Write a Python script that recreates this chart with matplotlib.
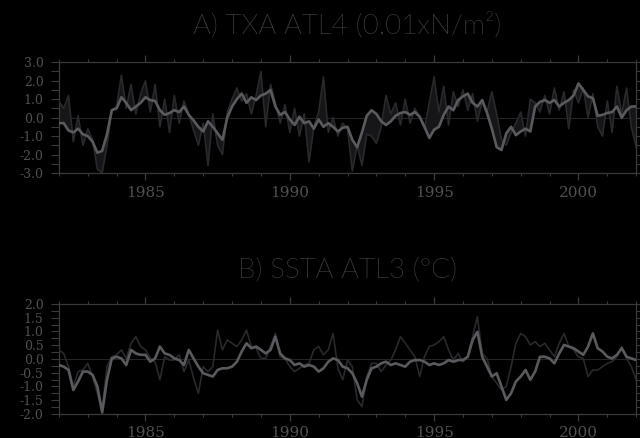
"""Atlantic wind-stress and SST anomaly indices, 1982-2002 (two stacked panels)."""
import matplotlib
matplotlib.use("Agg")
import matplotlib.pyplot as plt
import numpy as np
from matplotlib import font_manager
from matplotlib.ticker import MultipleLocator

# bimonthly samples, 1982.0 .. 2001.83 plus the closing point at 2002.0
YEARS = np.arange(1982, 2002)

# A) TXA ATL4 (0.01 x N/m^2): smooth (light) and raw (dark) series
txa_smooth = [
    -0.3, -0.3, -0.7, -0.8, -0.6, -0.9,
    -1.0, -1.3, -1.9, -1.8, -0.9, 0.4,
    0.5, 1.1, 0.8, 0.4, 0.6, 0.8,
    1.1, 0.95, 0.9, 0.4, 0.15, 0.25,
    0.4, 0.3, 0.6, 0.15, -0.15, -0.5,
    -0.75, -0.2, -0.5, -0.85, -1.2, 0.0,
    0.6, 1.0, 1.3, 0.8, 1.1, 0.95,
    1.2, 1.3, 1.5, 0.6, 0.15, 0.3,
    -0.1, -0.4, 0.05, -0.3, -0.2, -0.6,
    -0.1, -0.5, -0.3, -0.5, -0.75, -0.55,
    -0.5, -1.2, -1.6, -0.8, 0.1, 0.4,
    0.2, -0.2, -0.4, -0.2, 0.1, 0.25,
    0.3, 0.15, 0.3, 0.05, -0.5, -1.1,
    -0.65, -0.5, 0.15, 0.6, 0.4, 0.95,
    1.15, 1.3, 0.8, 0.6, 0.95, 0.25,
    -0.6, -1.6, -1.75, -0.85, -0.5, -0.95,
    -0.75, -0.6, -0.75, 0.6, 0.85, 0.95,
    0.8, 0.95, 0.6, 0.8, 0.95, 1.2,
    1.85, 1.5, 1.15, 1.05, 0.1, 0.15,
    0.25, 0.3, 0.6, 0.0, 0.4, 0.6,
    0.6,
]
txa_raw = [
    0.9, 0.5, 1.2, -1.3, 0.1, -1.5,
    -0.6, -1.2, -2.8, -3.0, -1.5, 0.4,
    0.6, 2.3, 0.5, 1.8, 0.2, 1.3,
    2.0, 0.3, 1.8, -0.5, 1.0, -0.8,
    1.2, -0.3, 0.9, 0.2, -0.7, -1.5,
    -0.3, -2.6, 0.2, -1.5, -2.0, 0.3,
    1.0, 1.6, 0.9, 1.3, 0.2, 1.2,
    2.5, -0.5, 1.8, 0.8, -0.3, 0.7,
    -0.8, 0.5, -1.0, 0.2, -2.4, -0.5,
    0.3, 2.2, -0.8, 0.0, -1.0, -0.3,
    -0.6, -2.9, -1.5, -2.6, -0.9, -1.0,
    -1.4, -0.5, 1.2, 0.2, 0.8, -0.4,
    1.0, -0.3, 0.5, 0.0, -0.6, 0.8,
    2.2, 0.3, 1.7, -0.4, 1.4, 0.6,
    1.5, 0.4, 1.3, -0.2, 0.9, 0.3,
    1.4, 0.2, -1.2, -1.5, -0.8, -0.3,
    0.3, -1.0, 1.0, 0.8, 0.3, 1.2,
    0.2, 1.6, 0.4, 1.4, -0.6, 1.5,
    0.8, 1.6, 0.0, 1.3, -0.5, -1.0,
    0.9, -0.8, 1.7, 0.2, 1.6, -0.5,
    -1.6,
]

# B) SSTA ATL3 (deg C)
ssta_smooth = [
    -0.22, -0.28, -0.4, -1.13, -0.82, -0.46,
    -0.46, -0.58, -1.0, -1.95, -0.76, 0.02,
    0.08, 0.02, -0.22, 0.33, 0.2, 0.15,
    0.15, -0.1, 0.02, 0.45, 0.2, 0.15,
    0.02, -0.04, -0.22, 0.33, 0.02, -0.28,
    -0.52, -0.58, -0.64, -0.4, -0.34, -0.34,
    -0.28, -0.1, 0.27, 0.57, 0.39, 0.45,
    0.33, 0.2, 0.33, 0.81, 0.2, 0.02,
    -0.04, -0.22, -0.16, -0.28, -0.22, -0.28,
    -0.46, -0.34, -0.1, 0.02, -0.04, -0.28,
    -0.34, -0.52, -0.88, -1.37, -0.76, -0.34,
    -0.28, -0.16, -0.1, -0.22, -0.16, -0.22,
    -0.28, -0.1, -0.04, -0.04, -0.1, -0.22,
    -0.16, -0.22, -0.16, -0.04, -0.1, -0.04,
    -0.04, 0.08, 0.69, 0.99, 0.08, -0.28,
    -0.64, -0.52, -1.0, -1.49, -1.25, -0.82,
    -0.64, -0.4, -0.76, -0.46, 0.08, 0.08,
    0.02, -0.16, 0.2, 0.51, 0.45, 0.39,
    0.27, 0.15, 0.45, 0.93, 0.39, 0.27,
    0.08, 0.02, 0.15, 0.39, 0.08, 0.02,
    -0.04,
]
ssta_raw = [
    0.33, 0.2, -0.28, -1.0, -0.46, -0.4,
    -0.16, -0.64, -1.25, -1.85, -0.28, 0.08,
    0.15, 0.33, 0.02, 0.57, 0.81, 0.45,
    0.33, 0.02, -0.1, -0.76, 0.08, -0.04,
    -0.04, 0.15, -0.46, -0.04, -0.7, -1.25,
    -0.28, -0.46, -0.28, 1.05, 0.33, 0.69,
    0.57, 0.45, 0.69, 1.05, 0.45, 0.39,
    0.02, 0.02, 0.45, 0.93, 0.08, 0.02,
    -0.28, -0.46, -0.34, -0.22, -0.16, 0.33,
    0.45, 0.15, 0.33, 0.93, -0.34, -0.76,
    -0.04, -0.28, -1.49, -1.73, -0.64, -0.16,
    -0.16, -0.46, -0.22, -0.04, 0.33, 0.81,
    0.57, 0.33, 0.08, -0.64, 0.08, 0.45,
    0.51, 0.63, 0.81, 0.33, -0.04, 0.2,
    -0.1, 0.08, 0.81, 1.54, 0.2, 0.02,
    -0.64, -0.88, -1.13, -1.0, -0.28, 0.57,
    0.93, 0.81, 0.51, 0.63, 0.45, 0.57,
    0.33, 0.08, 0.57, 0.93, 0.45, 0.33,
    0.08, 0.02, -0.64, -0.4, -0.4, -0.28,
    -0.16, -0.1, 0.08, 0.45, 0.02, -0.28,
    -0.76,
]

t = np.arange(len(txa_smooth)) / 6.0 + YEARS[0]

BG = "black"
FRAME = "#3a3a3a"
LABEL = "#505050"
LIGHT = "#5a5a5e"
DARK = "#2a282c"


def thin_font():
    # prefer a light-weight sans for the panel titles
    for name in ["Lato", "Roboto", "Open Sans", "Inter", "Noto Sans", "DejaVu Sans"]:
        for f in font_manager.fontManager.ttflist:
            if f.name == name and f.style == "normal" and isinstance(f.weight, int) and f.weight <= 300:
                return font_manager.FontProperties(fname=f.fname)
    return font_manager.FontProperties(family="DejaVu Sans")


fig = plt.figure(figsize=(6.4, 4.38), dpi=100, facecolor=BG)
ax_a = fig.add_axes([0.092, 0.605, 0.902, 0.253])
ax_b = fig.add_axes([0.092, 0.055, 0.902, 0.251])


def style(ax, ylim, ymaj, ymin):
    ax.set_facecolor(BG)
    ax.set_xlim(1982, 2002)
    ax.set_ylim(*ylim)
    for s in ax.spines.values():
        s.set_color(FRAME)
        s.set_linewidth(0.9)
    ax.axhline(0, color="#242424", lw=0.8, zorder=1)
    ax.xaxis.set_major_locator(MultipleLocator(5))
    ax.xaxis.set_minor_locator(MultipleLocator(1))
    ax.yaxis.set_major_locator(MultipleLocator(ymaj))
    ax.yaxis.set_minor_locator(MultipleLocator(ymin))
    ax.tick_params(axis="x", which="both", direction="out", top=True, color=FRAME,
                   labelcolor=LABEL, labelsize=11, pad=4)
    ax.tick_params(axis="x", which="major", length=5, width=0.9)
    ax.tick_params(axis="x", which="minor", length=2.5, width=0.8)
    ax.tick_params(axis="y", which="both", direction="out", right=True, color=FRAME,
                   labelcolor=LABEL, labelsize=9, length=6, width=0.8, pad=5)
    ax.yaxis.set_major_formatter(matplotlib.ticker.FuncFormatter(lambda v, p: f"{v:.1f}"))
    for lab in ax.get_xticklabels() + ax.get_yticklabels():
        lab.set_family("DejaVu Serif")


style(ax_a, (-3, 3), 1.0, 0.5)
ax_a.fill_between(t, txa_raw, txa_smooth, color="#161518", lw=0, zorder=2)
ax_a.plot(t, txa_raw, color=DARK, lw=1.2, zorder=3)
ax_a.plot(t, txa_smooth, color=LIGHT, lw=1.9, zorder=4)

style(ax_b, (-2, 2), 0.5, 0.25)
ax_b.plot(t, ssta_raw, color=DARK, lw=1.2, zorder=3)
ax_b.plot(t, ssta_smooth, color=LIGHT, lw=1.9, zorder=4)

tfont = thin_font()
tfont.set_size(20)
fig.text(0.543, 0.943, "A) TXA ATL4 (0.01xN/m\u00b2)", ha="center", va="center",
         color="#404040", fontproperties=tfont)
fig.text(0.543, 0.383, "B) SSTA ATL3 (\u00b0C)", ha="center", va="center",
         color="#404040", fontproperties=tfont)

fig.savefig("out.png", dpi=100, facecolor=BG)
